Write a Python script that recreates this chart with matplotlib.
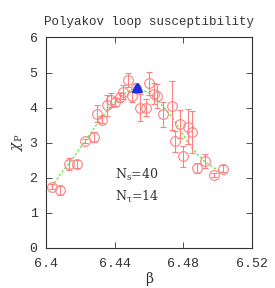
import numpy as np
import matplotlib
matplotlib.use('Agg')
from matplotlib import pyplot as plt

# Polyakov loop susceptibility data points (beta, chi, error)
beta = [6.4033, 6.4081, 6.4132, 6.4182, 6.4230, 6.4281, 6.4300, 6.4329,
        6.4353, 6.4378, 6.4400, 6.4430, 6.4451, 6.4480, 6.4502, 6.4527,
        6.4548, 6.4581, 6.4600, 6.4629, 6.4649, 6.4680, 6.4732, 6.4750,
        6.4780, 6.4800, 6.4830, 6.4850, 6.4880, 6.4928, 6.4978, 6.5029]
chi = [1.75, 1.64, 2.40, 2.40, 3.05, 3.16, 3.83, 3.66,
       4.07, 4.23, 4.16, 4.29, 4.44, 4.78, 4.32, 4.57,
       4.00, 4.00, 4.69, 4.40, 4.33, 3.81, 4.06, 3.04,
       3.52, 2.62, 3.45, 3.30, 2.28, 2.47, 2.09, 2.26]
chi_err = [0.08, 0.12, 0.17, 0.12, 0.06, 0.15, 0.25, 0.10,
           0.30, 0.20, 0.10, 0.12, 0.20, 0.20, 0.15, 0.12,
           0.38, 0.25, 0.32, 0.30, 0.35, 0.35, 0.70, 0.30,
           0.40, 0.30, 0.50, 0.60, 0.15, 0.20, 0.06, 0.10]

# peak estimates
beta_peak = [6.4522, 6.4530, 6.4538]
chi_peak = [4.55, 4.58, 4.55]
chi_peak_err = [0.04, 0.04, 0.04]

# reweighted curve
beta_fit = [6.4033, 6.410, 6.415, 6.420, 6.425, 6.430, 6.435, 6.440,
            6.445, 6.450, 6.453, 6.455, 6.460, 6.4629, 6.468, 6.4732,
            6.478, 6.483, 6.488, 6.4928, 6.498, 6.5029]
chi_fit = [1.75, 2.20, 2.50, 2.85, 3.20, 3.55, 3.88, 4.15,
           4.38, 4.52, 4.55, 4.53, 4.42, 4.32, 4.05, 3.75,
           3.38, 2.99, 2.68, 2.45, 2.28, 2.16]

mono = 'Liberation Mono'
serif = 'DejaVu Serif'
plt.rcParams['mathtext.fontset'] = 'dejavuserif'

fig = plt.figure(figsize=(2.75, 2.88), dpi=100)
ax = fig.add_axes([0.167, 0.139, 0.749, 0.731])

ax.plot(beta_fit, chi_fit, ls=(0, (2, 1.5)), color='#55ee33', lw=0.9, zorder=2)
ax.errorbar(beta, chi, yerr=chi_err, fmt='o', mfc='none', mec='#ff8080',
            ecolor='#ff8080', ms=7, mew=0.8, elinewidth=0.8, capsize=2,
            capthick=0.8, zorder=3)
ax.errorbar(beta_peak, chi_peak, yerr=chi_peak_err, fmt='^', color='#1a2ee6',
            ecolor='#8888ff', ms=5.5, elinewidth=0.8, capsize=2, zorder=4)

ax.set_xlim(6.4, 6.52)
ax.set_ylim(0, 6)
ax.set_xticks([6.4, 6.44, 6.48, 6.52])
ax.set_xticklabels(['6.4', '6.44', '6.48', '6.52'])
ax.set_yticks(range(7))
ax.tick_params(direction='in', top=True, right=True, length=4, width=0.6,
               labelsize=9.5, colors='#333333')
ax.tick_params(axis='x', pad=7)
ax.tick_params(axis='y', pad=6)
for lab in ax.get_xticklabels() + ax.get_yticklabels():
    lab.set_family(mono)
for sp in ax.spines.values():
    sp.set_linewidth(0.8)
    sp.set_color('#333333')

ax.set_title('Polyakov loop susceptibility', family=mono, fontsize=9,
             color='#333333', pad=9)
ax.set_xlabel('β', family=serif, fontsize=10, color='#333333')
ax.xaxis.set_label_coords(0.5, -0.112)
ax.set_ylabel(r'$\chi_\mathrm{P}$', fontsize=10, color='#333333', rotation=90)
ax.yaxis.set_label_coords(-0.1, 0.5)

ax.text(0.335, 0.33, r'$\mathrm{N_s}$=40', transform=ax.transAxes,
        family=serif, fontsize=9, color='#333333')
ax.text(0.335, 0.23, r'$\mathrm{N_\tau}$=14', transform=ax.transAxes,
        family=serif, fontsize=9, color='#333333')

fig.savefig('out.png', dpi=100)
